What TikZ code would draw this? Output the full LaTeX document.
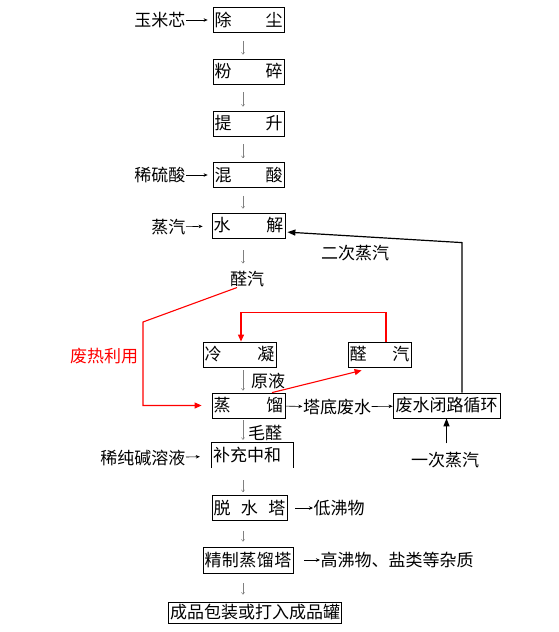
\documentclass[tikz,border=0pt]{standalone}
\usepackage{fontspec}
\setmainfont{Noto Sans CJK SC}
\usepackage{tikz}
\usetikzlibrary{arrows.meta,positioning}

\tikzset{
  proc/.style={draw, line width=0.8pt, minimum height=25pt, inner xsep=1.5pt, inner ysep=0pt},
  lbl/.style={inner sep=0.5pt},
  darr/.style={gray, line width=0.5pt, -{To[length=2.5pt,width=3.5pt]}},
  sarr/.style={line width=0.6pt, -{Stealth[length=4pt,width=3.5pt]}},
  rarr/.style={red, line width=1.1pt, -{Triangle[length=7pt,width=6pt]}},
  barr/.style={black, line width=1.2pt, -{Triangle[length=8pt,width=6pt]}},
}
\newcommand{\spread}[2]{\makebox[#1][s]{#2}}

\begin{document}
\begin{tikzpicture}[x=1pt, y=-1pt, font=\fontsize{17}{19}\selectfont]
    \useasboundingbox (0,0) rectangle (558,632);
    \coordinate (ax) at (243,0);
    % main column
    \node[proc] (chuchen) at (248.5,20) {\spread{68pt}{除\hfill 尘}};
    \node[proc] (fensui) at (248.5,71.5) {\spread{68pt}{粉\hfill 碎}};
    \node[proc] (tisheng) at (248.5,123.5) {\spread{68pt}{提\hfill 升}};
    \node[proc] (hunsuan) at (248.5,175) {\spread{68pt}{混\hfill 酸}};
    \node[proc] (shuijie) at (248.5,225.5) {\spread{70pt}{水\hfill 解}};
    \node[lbl] (quanqi) at (247,279) {醛汽};
    \node[proc] (lengning) at (239.5,354.5) {\spread{70pt}{冷\hfill 凝}};
    \node[proc] (qbox) at (379.5,354.5) {\spread{60pt}{醛\hfill 汽}};
    \node[proc] (zhengliu) at (248.5,405.5) {\spread{70pt}{蒸\hfill 馏}};
    \node[proc, minimum width=107pt] (fsbox) at (446.5,405.5) {废水闭路循环};
    \node[inner xsep=1pt, inner ysep=0pt, minimum height=25pt, text width=79pt, align=left] (bczh) at (252.5,455.5) {补充中和};
    \draw[line width=0.8pt] (bczh.south west) -- (bczh.north west) -- (bczh.north east) -- (bczh.south east);
    \node[proc] (tuoshui) at (249.5,508) {\spread{72pt}{脱\hfill 水\hfill 塔}};
    \node[proc, minimum height=26pt] (jingzhi) at (248,560) {\spread{87pt}{精\hfill 制\hfill 蒸\hfill 馏\hfill 塔}};
    \node[proc, minimum height=21pt, minimum width=156pt] (chengpin) at (255,612.5) {成品包装或打入成品罐};
    % side labels
    \node[lbl, anchor=east] (ymx) at (186,20) {玉米芯};
    \node[lbl, anchor=east] (xls) at (186,175) {稀硫酸};
    \node[lbl, anchor=east] (zq) at (186,227) {蒸汽};
    \node[lbl, anchor=east] (xcj) at (186,458) {稀纯碱溶液};
    \node[lbl, red] (frly) at (104,356) {废热利用};
    \node[lbl] (yuanye) at (268,381) {原液};
    \node[lbl] (maoquan) at (265,433) {毛醛};
    \node[lbl] (tdfs) at (337,407) {塔底废水};
    \node[lbl] (ecqi) at (355,253) {二次蒸汽};
    \node[lbl] (ycqi) at (445,460) {一次蒸汽};
    \node[lbl, anchor=west] (dfw) at (313,508) {低沸物};
    \node[lbl, anchor=west] (gfw) at (320,560) {高沸物、盐类等杂质};
    % down arrows
    \foreach \a/\b in {chuchen/fensui, fensui/tisheng, tisheng/hunsuan, hunsuan/shuijie}
        \draw[darr, shorten <=8pt, shorten >=4pt] (\a.south -| ax) -- (\b.north -| ax);
    \draw[darr, shorten <=12pt, shorten >=7pt] (shuijie.south -| ax) -- (quanqi.north -| ax);
    \draw[darr, shorten <=3pt, shorten >=2pt] (lengning.south -| ax) -- (zhengliu.north -| ax);
    \draw[darr, shorten <=2pt, shorten >=3pt] (zhengliu.south -| ax) -- (bczh.north -| ax);
    \draw[darr, shorten <=12pt, shorten >=3pt] (bczh.south -| ax) -- (tuoshui.north -| ax);
    \draw[darr, shorten <=10pt, shorten >=5pt] (tuoshui.south -| ax) -- (jingzhi.north -| ax);
    \draw[darr, shorten <=10pt, shorten >=7pt] (jingzhi.south -| ax) -- (chengpin.north -| ax);
    % feeds and outlets
    \draw[sarr, shorten >=5pt] (ymx) -- (chuchen);
    \draw[sarr, shorten >=5pt] (xls) -- (hunsuan);
    \draw[sarr, shorten >=9pt] (zq) -- (shuijie);
    \draw[sarr, shorten >=12pt] (xcj) -- (bczh);
    \draw[sarr] (zhengliu) -- (tdfs);
    \draw[sarr] (tdfs) -- (fsbox);
    \draw[sarr, shorten <=8pt] (tuoshui) -- (dfw);
    \draw[sarr, shorten <=11pt] (jingzhi) -- (gfw);
    % heat reuse
    \coordinate (bend) at (143,322);
    \draw[rarr, shorten >=10pt] ([xshift=-10pt]quanqi.south) -- (bend) |- (zhengliu.west);
    \draw[rarr] ([xshift=6.5pt]qbox.north) -- ++(0,-29) -| ([xshift=1.5pt]lengning.north);
    \draw[rarr] ([xshift=23.5pt]zhengliu.north) -- ([xshift=14pt,yshift=-3pt]qbox.south west);
    % steam loop
    \draw[barr, shorten >=2pt] ([xshift=15.5pt]fsbox.north) -- ++(0,-150) -- ([yshift=-6.5pt]shuijie.east);
    \draw[barr, shorten <=8pt] (ycqi.north -| fsbox.south) -- (fsbox.south);
\end{tikzpicture}
\end{document}
